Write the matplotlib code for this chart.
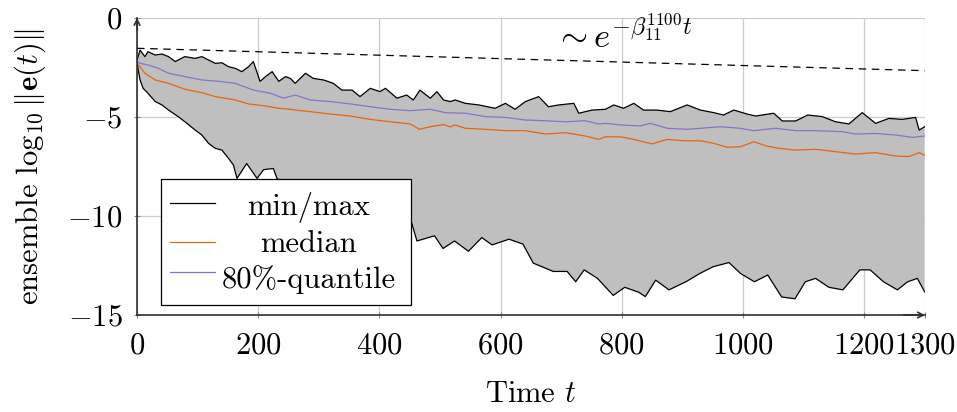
import numpy as np
import matplotlib
matplotlib.use("Agg")
import matplotlib.pyplot as plt
from matplotlib.patches import Rectangle
from matplotlib.lines import Line2D

plt.rcParams['mathtext.fontset'] = 'cm'
plt.rcParams['font.family'] = 'serif'
plt.rcParams['font.serif'] = ['cmr10']
plt.rcParams['axes.unicode_minus'] = False

# ---------------- data ----------------
max_t = [0, 5, 13, 18, 30, 41, 52, 63, 79, 96, 107, 118, 129, 140, 151, 162, 173, 184, 192,
         203, 212, 223, 234, 245, 253, 261, 278, 291, 308, 324, 338, 355, 368, 385, 401, 410,
         429, 445, 456, 467, 484, 495, 506, 517, 525, 542, 564, 591, 608, 624, 641, 663, 679,
         696, 721, 729, 751, 773, 787, 803, 820, 836, 858, 880, 908, 930, 952, 968, 985, 1007,
         1021, 1051, 1065, 1087, 1107, 1131, 1153, 1175, 1197, 1219, 1241, 1263, 1285, 1291, 1300]
max_v = [-2.12, -1.62, -1.95, -1.70, -1.87, -1.82, -1.95, -2.20, -1.95, -2.04, -1.95, -2.12,
         -2.29, -2.26, -2.46, -2.54, -2.71, -2.46, -2.20, -3.20, -2.96, -2.71, -3.20, -2.96,
         -3.05, -3.30, -2.79, -3.05, -3.13, -3.30, -3.64, -3.64, -3.97, -3.55, -3.72, -3.55,
         -4.05, -3.89, -4.14, -3.64, -4.05, -3.72, -4.14, -4.22, -4.14, -4.31, -4.39, -4.56,
         -4.31, -4.61, -4.22, -3.97, -4.48, -4.39, -4.31, -4.81, -4.65, -4.61, -4.39, -4.56,
         -4.31, -4.65, -4.65, -4.73, -4.39, -4.65, -4.78, -4.90, -4.65, -4.85, -4.95, -4.81,
         -5.20, -5.20, -4.90, -4.98, -5.24, -5.35, -4.78, -5.32, -5.07, -5.12, -5.02, -5.66, -5.49]

min_t = [0, 5, 10, 18, 30, 41, 52, 68, 79, 96, 107, 118, 129, 140, 151, 159, 165, 181, 198,
         209, 225, 231, 260, 300, 340, 380, 420, 448, 453, 462, 491, 505, 524, 547, 569, 586,
         614, 637, 654, 687, 710, 724, 738, 760, 786, 805, 828, 839, 856, 878, 906, 929, 951,
         977, 996, 1019, 1041, 1064, 1086, 1103, 1120, 1142, 1165, 1193, 1210, 1232, 1255,
         1272, 1288, 1300]
min_v = [-2.29, -3.13, -3.55, -3.80, -4.22, -4.39, -4.65, -4.98, -5.24, -5.66, -5.91, -6.33,
         -6.58, -6.67, -7.09, -7.42, -8.10, -7.35, -8.10, -7.66, -7.60, -8.10, -8.70, -9.30,
         -9.70, -9.90, -10.10, -10.00, -10.32, -11.26, -11.00, -11.64, -11.26, -11.78, -11.09,
         -11.46, -11.17, -11.42, -12.38, -12.80, -12.80, -13.32, -12.72, -13.15, -14.01,
         -13.60, -13.85, -14.07, -13.24, -13.73, -13.32, -12.90, -12.56, -12.35, -12.90,
         -13.32, -12.98, -14.09, -14.18, -13.32, -13.15, -13.60, -13.73, -12.72, -12.72,
         -13.32, -13.73, -13.32, -13.15, -13.83]

median_t = [0, 5, 13, 30, 52, 79, 107, 129, 162, 184, 212, 234, 253, 261, 286, 319, 352, 385,
            418, 451, 466, 484, 506, 517, 525, 542, 575, 608, 641, 674, 707, 740, 762, 773,
            798, 820, 850, 875, 902, 930, 952, 974, 996, 1018, 1029, 1038, 1059, 1087, 1120,
            1153, 1186, 1219, 1252, 1274, 1291, 1300]
median_v = [-2.30, -2.46, -2.79, -3.13, -3.30, -3.60, -3.77, -3.97, -4.14, -4.34, -4.44, -4.56,
            -4.61, -4.65, -4.73, -4.85, -4.95, -5.12, -5.24, -5.35, -5.62, -5.49, -5.38, -5.50,
            -5.40, -5.57, -5.62, -5.69, -5.69, -5.86, -5.79, -5.96, -6.13, -6.00, -6.00, -6.13,
            -6.36, -6.13, -6.20, -6.20, -6.33, -6.53, -6.50, -6.25, -6.36, -6.46, -6.58, -6.67,
            -6.63, -6.75, -6.87, -6.80, -6.97, -7.00, -6.80, -6.92]

q80_t = [0, 5, 18, 35, 52, 79, 107, 140, 162, 192, 220, 242, 261, 286, 319, 352, 385, 418,
         451, 484, 509, 542, 575, 608, 641, 674, 707, 740, 762, 773, 798, 831, 847, 875, 908,
         930, 963, 996, 1018, 1054, 1087, 1120, 1164, 1186, 1219, 1252, 1280, 1300]
q80_v = [-2.20, -2.29, -2.37, -2.54, -2.79, -2.96, -3.13, -3.21, -3.30, -3.64, -3.80, -4.05,
         -3.89, -4.14, -4.22, -4.34, -4.48, -4.61, -4.68, -4.61, -4.78, -4.81, -4.98, -5.02,
         -5.15, -5.19, -5.24, -5.19, -5.35, -5.32, -5.40, -5.45, -5.32, -5.57, -5.62, -5.57,
         -5.49, -5.57, -5.69, -5.57, -5.69, -5.69, -5.74, -5.86, -5.83, -5.91, -6.03, -5.96]

ref_t = [0, 1300]
ref_v = [-1.53, -2.66]

xticks = [0, 200, 400, 600, 800, 1000, 1200, 1300]
yticks = [0, -5, -10, -15]
legend_labels = ['min/max', 'median', '80%-quantile']

# ---------------- figure ----------------
fig = plt.figure(figsize=(9.57, 4.12), dpi=100)
ax = fig.add_axes([0.1432, 0.2354, 0.823, 0.7209])

FS = 22
grey_fill = '#bfbfbf'
c_orange = '#e8650f'
c_purple = '#8575c8'

ax.fill(np.r_[max_t, min_t[::-1]], np.r_[max_v, min_v[::-1]], color=grey_fill, lw=0, zorder=1)
ax.plot(max_t, max_v, color='black', lw=0.9, zorder=3)
ax.plot(min_t, min_v, color='black', lw=0.9, zorder=3)
ax.plot(median_t, median_v, color=c_orange, lw=0.9, zorder=3)
ax.plot(q80_t, q80_v, color=c_purple, lw=0.9, zorder=3)
ax.plot(ref_t, ref_v, color='black', lw=0.9, linestyle=(0, (6, 4.5)), zorder=3)

ax.text(688, -1.5, r'$\sim e^{-\beta_{11}^{1100} t}$', fontsize=25, ha='left', va='baseline')

ax.set_xlim(0, 1300)
ax.set_ylim(-15, 0)
ax.set_xticks(xticks)
ax.set_xticklabels([f'${v}$' for v in xticks], fontsize=FS)
ax.set_yticks(yticks)
ax.set_yticklabels([f'${v}$' for v in yticks], fontsize=FS)
ax.set_axisbelow(True)
ax.grid(True, color='#cccccc', lw=0.9)
ax.tick_params(direction='inout', length=5, width=0.8, color='#888888', pad=8)
ax.tick_params(axis='x', pad=10)

for s in ['top', 'right']:
    ax.spines[s].set_visible(False)
for s in ['left', 'bottom']:
    ax.spines[s].set_color('#303030')
    ax.spines[s].set_linewidth(1.2)
    ax.spines[s].set_zorder(6)

ax.annotate('', xy=(0, 1.01), xytext=(0, 0.95), xycoords='axes fraction',
            arrowprops=dict(arrowstyle='->', lw=1.2, color='#303030', mutation_scale=10))
ax.annotate('', xy=(1.004, 0), xytext=(0.97, 0), xycoords='axes fraction',
            arrowprops=dict(arrowstyle='->', lw=1.2, color='#303030', mutation_scale=10))

ax.set_xlabel(r'Time $t$', fontsize=FS, labelpad=15)
ax.set_ylabel(r'ensemble $\log_{10} \Vert\mathbf{e}(t)\Vert$', fontsize=FS, labelpad=14)

# legend (pgfplots-style, centered labels)
ax.add_patch(Rectangle((0.0305, 0.0337), 0.3175, 0.4243, transform=ax.transAxes,
                       facecolor='white', edgecolor='black', lw=0.9, zorder=8))
leg_colors = ['black', c_orange, c_purple]
line_y = [0.376, 0.247, 0.146]
text_y = [0.337, 0.213, 0.090]
for lab, col, ly, ty in zip(legend_labels, leg_colors, line_y, text_y):
    ax.add_line(Line2D([0.042, 0.099], [ly, ly], transform=ax.transAxes, color=col,
                       lw=0.9, zorder=9))
    ax.text(0.218, ty, lab, transform=ax.transAxes, fontsize=FS, ha='center',
            va='baseline', zorder=9)

fig.savefig('out.png', dpi=100, facecolor='white')
